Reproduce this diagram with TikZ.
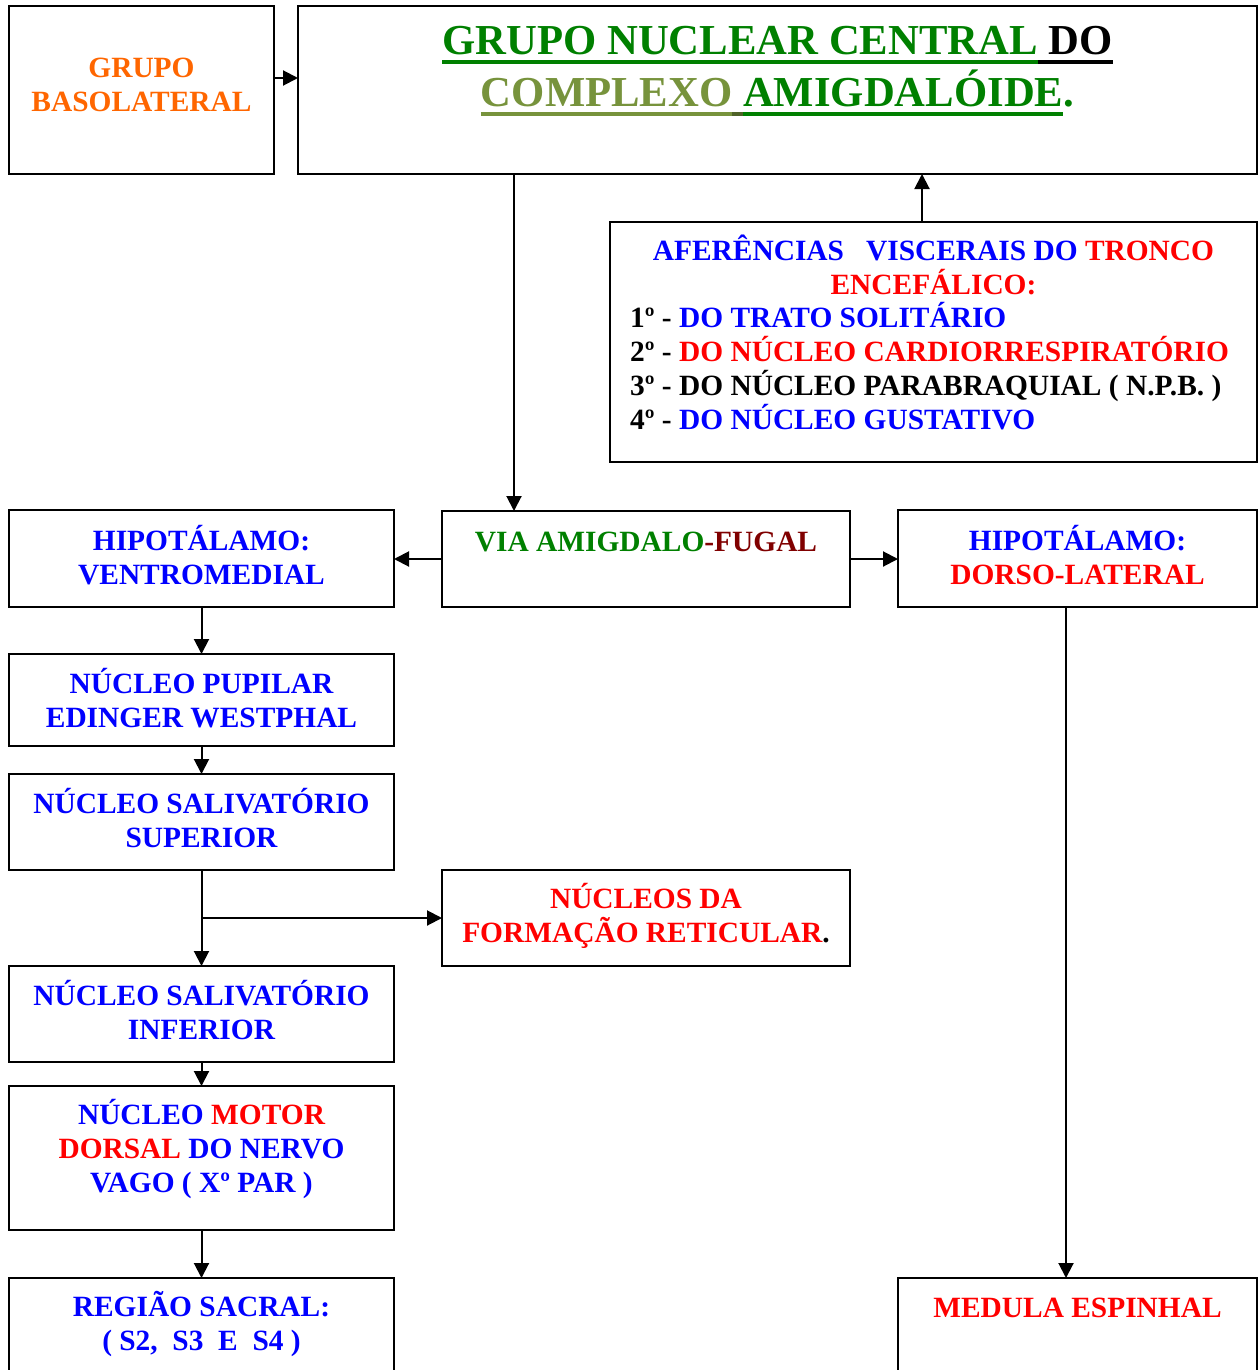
\documentclass[tikz,border=0pt]{standalone}
\usepackage{fontspec}
\setmainfont{Liberation Serif}
\usetikzlibrary{arrows.meta}

\definecolor{ngreen}{HTML}{008000}
\definecolor{olive}{HTML}{77933C}
\definecolor{darkolive}{HTML}{4F6228}
\definecolor{orng}{HTML}{FF6600}
\definecolor{nblue}{HTML}{0000FF}
\definecolor{nred}{HTML}{FF0000}
\definecolor{dred}{HTML}{800000}

% centred / left-aligned stacks of lines whose baseline is the first line
\newcommand\midlines[1]{\vtop{\halign{\hfil##\hfil\cr#1\crcr}}}
\newcommand\leftlines[1]{\vtop{\halign{##\hfil\cr#1\crcr}}}

% thick underline in the current colour
\newlength\ulwd
\newcommand\ulword[1]{\settowidth{\ulwd}{#1}\rlap{\rule[-9pt]{\ulwd}{4pt}}#1}

\begin{document}
\begin{tikzpicture}[x=1pt,y=-1pt,
  box/.style={draw, line width=2pt, inner sep=0pt, outer sep=0pt, anchor=north west},
  txt/.style={font=\fontsize{29.4}{34}\selectfont\bfseries, inner sep=0pt, anchor=base},
  ttl/.style={font=\fontsize{42.7}{52}\selectfont\bfseries, inner sep=0pt, anchor=base},
  arr/.style={line width=2pt, -{Triangle[length=15pt,width=15pt]}}]

\clip (0,0) rectangle (1258,1370);
\fill[white] (0,0) rectangle (1258,1370);

% boxes
\node[box, minimum width=265pt, minimum height=168pt] (A) at (9,6) {};
\node[box, minimum width=959pt, minimum height=168pt] (B) at (298,6) {};
\node[box, minimum width=647pt, minimum height=240pt] (C) at (610,222) {};
\node[box, minimum width=408pt, minimum height=96pt] (D) at (442,511) {};
\node[box, minimum width=385pt, minimum height=97pt] (E) at (9,510) {};
\node[box, minimum width=359pt, minimum height=97pt] (F) at (898,510) {};
\node[box, minimum width=385pt, minimum height=92pt] (G) at (9,654) {};
\node[box, minimum width=385pt, minimum height=96pt] (H) at (9,774) {};
\node[box, minimum width=408pt, minimum height=96pt] (I) at (442,870) {};
\node[box, minimum width=385pt, minimum height=96pt] (J) at (9,966) {};
\node[box, minimum width=385pt, minimum height=144pt] (K) at (9,1086) {};
\node[box, minimum width=385pt, minimum height=130pt] (L) at (9,1278) {};
\node[box, minimum width=359pt, minimum height=130pt] (M) at (898,1278) {};

% texts
\node[txt, text=orng] (tA) at (141.5,78) {\midlines{GRUPO\cr BASOLATERAL}};
\node[ttl] (tB) at (777.5,55) {\midlines{%
  {\color{ngreen}\ulword{GRUPO NUCLEAR CENTRAL}}{\color{black}\ulword{\ DO}}\cr
  {\color{olive}\ulword{COMPLEXO}}{\color{darkolive}\ulword{\ }}{\color{ngreen}\ulword{AMIGDALÓIDE}.}}};
\node[txt] (tC1) at (933.5,260) {\midlines{%
  {\color{nblue}AFERÊNCIAS\ \ \ VISCERAIS DO }{\color{nred}TRONCO}\cr
  {\color{nred}ENCEFÁLICO:}}};
\node[txt, anchor=base west] (tC2) at (630,327) {\leftlines{%
  1º - {\color{nblue}DO TRATO SOLITÁRIO}\cr
  2º - {\color{nred}DO NÚCLEO CARDIORRESPIRATÓRIO}\cr
  3º - DO NÚCLEO PARABRAQUIAL ( N.P.B. )\cr
  4º - {\color{nblue}DO NÚCLEO GUSTATIVO}}};
\node[txt] (tD) at (646,551) {{\color{ngreen}VIA AMIGDALO}{\color{dred}-FUGAL}};
\node[txt, text=nblue] (tE) at (201.5,550) {\midlines{HIPOTÁLAMO:\cr VENTROMEDIAL}};
\node[txt, text=nblue] (tF) at (1077.5,550) {\midlines{HIPOTÁLAMO:\cr {\color{nred}DORSO-LATERAL}}};
\node[txt, text=nblue] (tG) at (201.5,693) {\midlines{NÚCLEO PUPILAR\cr EDINGER WESTPHAL}};
\node[txt, text=nblue] (tH) at (201.5,813) {\midlines{NÚCLEO SALIVATÓRIO\cr SUPERIOR}};
\node[txt] (tI) at (646,908) {\midlines{{\color{nred}NÚCLEOS DA}\cr {\color{nred}FORMAÇÃO RETICULAR}.}};
\node[txt, text=nblue] (tJ) at (201.5,1005) {\midlines{NÚCLEO SALIVATÓRIO\cr INFERIOR}};
\node[txt, text=nblue] (tK) at (201.5,1124) {\midlines{NÚCLEO {\color{nred}MOTOR}\cr
  {\color{nred}DORSAL} DO NERVO\cr VAGO ( Xº PAR )}};
\node[txt, text=nblue] (tL) at (201.5,1316) {\midlines{REGIÃO SACRAL:\cr ( S2,\ \ S3\ \ E\ \ S4 )}};
\node[txt, text=nred] (tM) at (1077.5,1317) {MEDULA ESPINHAL};

% connectors
\draw[arr] ([yshift=12pt]A.east) -- ([yshift=12pt]A.east -| B.west);
\draw[arr] ([xshift=-132pt]D.north |- B.south) -- ([xshift=-132pt]D.north);
\draw[arr] ([xshift=-11.5pt]C.north) -- ([xshift=-11.5pt]C.north |- B.south);
\draw[arr] (D.west) -- (D.west -| E.east);
\draw[arr] (D.east) -- (D.east -| F.west);
\draw[arr] (E.south) -- (G.north);
\draw[arr] (G.south) -- (H.north);
\draw[arr] (H.south) -- (J.north);
\draw[arr] (H.south |- I.west) -- (I.west);
\draw[arr] (J.south) -- (K.north);
\draw[arr] (K.south) -- (L.north);
\draw[arr] ([xshift=-11.5pt]F.south) -- ([xshift=-11.5pt]F.south |- M.north);

\end{tikzpicture}
\end{document}
